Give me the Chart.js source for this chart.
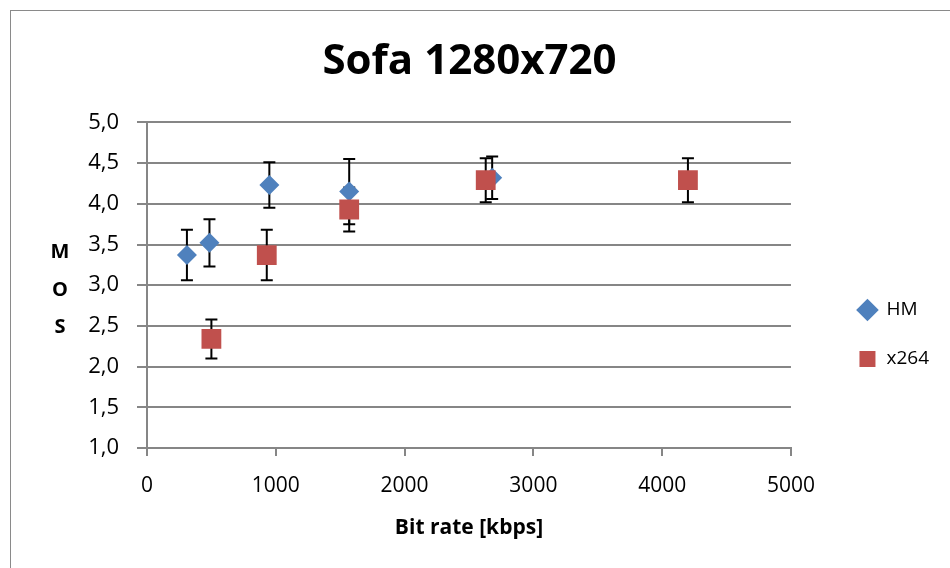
<!DOCTYPE html>
<html>
<head>
<meta charset="utf-8">
<script src="https://cdn.jsdelivr.net/npm/chart.js@4"></script>
<style>
  html, body { margin: 0; padding: 0; background: #fff; }
  #wrap { position: relative; width: 950px; height: 568px; overflow: hidden; }
  #frame { position: absolute; left: 10px; top: 10px; width: 1000px; height: 600px; border: 1.5px solid #8a8a8a; }
  #chart { position: absolute; left: 0; top: 0; }
</style>
</head>
<body>
<div id="wrap">
  <div id="frame"></div>
  <canvas id="chart" width="950" height="568"></canvas>
</div>
<script>
// bit rate (kbps) and MOS with error half-widths
const hmRate = [310, 485, 950, 1570, 2680];
const hmMos = [3.37, 3.52, 4.23, 4.15, 4.32];
const hmErr = [0.31, 0.29, 0.28, 0.40, 0.26];

const x264Rate = [500, 930, 1570, 2630, 4200];
const x264Mos = [2.34, 3.37, 3.93, 4.29, 4.29];
const x264Err = [0.24, 0.31, 0.27, 0.27, 0.27];

const seriesNames = ['HM', 'x264'];

const toPoints = (xs, ys) => xs.map((x, i) => ({ x: x, y: ys[i] }));

Chart.defaults.font.family = 'Open Sans';
Chart.defaults.color = '#000';

// error bars, all drawn under the markers
const errorBars = {
  id: 'errorBars',
  beforeDatasetsDraw(chart) {
    const ctx = chart.ctx;
    const yScale = chart.scales.y;
    ctx.save();
    ctx.strokeStyle = '#000';
    ctx.lineWidth = 2;
    chart.data.datasets.forEach((ds, di) => {
      if (!ds.errors) return;
      chart.getDatasetMeta(di).data.forEach((pt, i) => {
        const v = ds.data[i].y;
        const e = ds.errors[i];
        const top = yScale.getPixelForValue(v + e);
        const bot = yScale.getPixelForValue(v - e);
        ctx.beginPath();
        ctx.moveTo(pt.x, top); ctx.lineTo(pt.x, bot);
        ctx.moveTo(pt.x - 6, top); ctx.lineTo(pt.x + 6, top);
        ctx.moveTo(pt.x - 6, bot); ctx.lineTo(pt.x + 6, bot);
        ctx.stroke();
      });
    });
    ctx.restore();
  }
};

// stacked "M O S" axis title
const stackedTitle = {
  id: 'stackedTitle',
  afterDraw(chart) {
    const ctx = chart.ctx;
    ctx.save();
    ctx.font = 'bold 20px "Open Sans"';
    ctx.fillStyle = '#000';
    ctx.textAlign = 'center';
    ctx.textBaseline = 'middle';
    const letters = ['M', 'O', 'S'];
    const ys = [252, 290, 327];
    letters.forEach((l, i) => ctx.fillText(l, 60, ys[i]));
    ctx.restore();
  }
};

new Chart(document.getElementById('chart'), {
  type: 'scatter',
  data: {
    datasets: [
      {
        label: seriesNames[0],
        data: toPoints(hmRate, hmMos),
        errors: hmErr,
        pointStyle: 'rectRot',
        pointRadius: 10,
        pointHoverRadius: 10,
        backgroundColor: '#4F81BD',
        borderColor: '#4F81BD',
        borderWidth: 0,
        order: 2
      },
      {
        label: seriesNames[1],
        data: toPoints(x264Rate, x264Mos),
        errors: x264Err,
        pointStyle: 'rect',
        pointRadius: 14,
        pointHoverRadius: 14,
        backgroundColor: '#C0504D',
        borderColor: '#C0504D',
        borderWidth: 0,
        order: 1
      }
    ]
  },
  options: {
    responsive: false,
    animation: false,
    layout: { padding: { left: 0, right: 11, top: 0, bottom: 23 } },
    plugins: {
      title: {
        display: true,
        text: 'Sofa 1280x720',
        font: { size: 42, weight: 'bold' },
        padding: { top: 37, bottom: 35 }
      },
      legend: {
        position: 'right',
        title: { display: true, text: ' ', font: { size: 10 }, padding: { top: 112, bottom: 0 } },
        labels: {
          usePointStyle: true,
          boxHeight: 16,
          padding: 30,
          font: { size: 19 },
          sort: (a, b) => a.datasetIndex - b.datasetIndex
        }
      },
      tooltip: { enabled: false }
    },
    scales: {
      x: {
        type: 'linear',
        min: 0,
        max: 5000,
        ticks: { stepSize: 1000, padding: 17, font: { size: 21 }, callback: v => String(v) },
        grid: { drawOnChartArea: false, color: '#868686', lineWidth: 2, tickLength: 8 },
        border: { color: '#868686', width: 2 },
        title: { display: true, text: 'Bit rate [kbps]', font: { size: 21, weight: 'bold' } },
        afterFit: s => { s.height = 97; }
      },
      y: {
        min: 1,
        max: 5,
        ticks: {
          stepSize: 0.5,
          padding: 18,
          font: { size: 22 },
          callback: v => v.toFixed(1).replace('.', ',')
        },
        grid: { color: '#868686', lineWidth: 2, tickLength: 10 },
        border: { color: '#868686', width: 2 },
        afterFit: s => { s.width = 147; }
      },
      // empty spacer between plot area and legend
      gap: {
        axis: 'y',
        position: 'right',
        display: true,
        ticks: { display: false },
        grid: { display: false },
        border: { display: false },
        afterFit: s => { s.width = 37; }
      }
    }
  },
  plugins: [errorBars, stackedTitle]
});
</script>
</body>
</html>
